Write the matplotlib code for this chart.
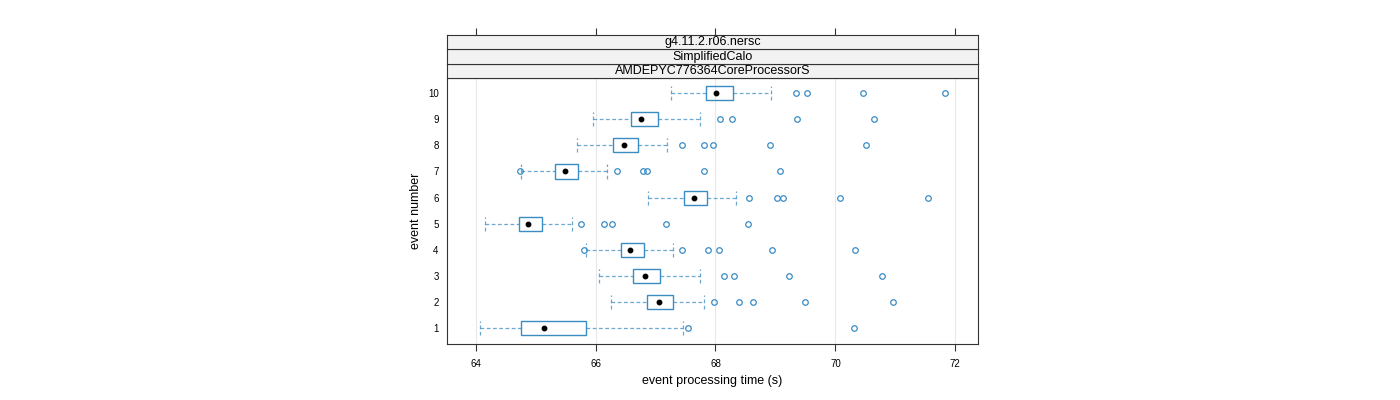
import matplotlib.pyplot as plt
from matplotlib.patches import Rectangle

plt.rcParams['font.family'] = ['Liberation Sans', 'DejaVu Sans']

# event numbers 1..10 and box statistics (seconds)
events = [1, 2, 3, 4, 5, 6, 7, 8, 9, 10]
whisk_lo = [64.07, 66.25, 66.05, 65.84, 64.15, 66.87, 64.75, 65.69, 65.95, 67.26]
q1 = [64.75, 66.86, 66.62, 66.42, 64.72, 67.47, 65.32, 66.29, 66.59, 67.84]
median = [65.14, 67.06, 66.82, 66.57, 64.87, 67.64, 65.49, 66.47, 66.76, 68.01]
q3 = [65.84, 67.29, 67.07, 66.81, 65.10, 67.86, 65.70, 66.71, 67.04, 68.29]
whisk_hi = [67.46, 67.81, 67.74, 67.29, 65.60, 68.34, 66.19, 67.19, 67.74, 68.93]
outliers = [
    [67.54, 70.31],
    [67.97, 68.39, 68.63, 69.49, 70.96],
    [68.14, 68.31, 69.23, 70.78],
    [65.80, 67.44, 67.87, 68.06, 68.94, 70.33],
    [65.75, 66.14, 66.27, 67.17, 68.54],
    [68.56, 69.03, 69.13, 70.08, 71.55],
    [64.73, 66.35, 66.79, 66.86, 67.81, 69.08],
    [67.44, 67.81, 67.96, 68.91, 70.51],
    [68.08, 68.28, 69.36, 70.65],
    [69.34, 69.53, 70.46, 71.83],
]
strips = ['g4.11.2.r06.nersc', 'SimplifiedCalo', 'AMDEPYC776364CoreProcessorS']
xticks = [64, 66, 68, 70, 72]

col = '#3a8cc4'
frame = '#333333'
xlim = (63.52, 72.38)

fig = plt.figure(figsize=(14, 4), dpi=100)
L, W = 447 / 1400, (978 - 447) / 1400
ax = fig.add_axes([L, 56 / 400, W, 266 / 400])

ax.set_xlim(*xlim)
ax.set_ylim(0.39, 10.58)
for t in xticks:
    ax.axvline(t, color='#e8e8e8', lw=0.8, zorder=0)

h = 0.27
for i, e in enumerate(events):
    ax.plot([whisk_lo[i], q1[i]], [e, e], color=col, lw=0.9, ls=(0, (3, 2)), alpha=0.75)
    ax.plot([q3[i], whisk_hi[i]], [e, e], color=col, lw=0.9, ls=(0, (3, 2)), alpha=0.75)
    for w in (whisk_lo[i], whisk_hi[i]):
        ax.plot([w, w], [e - h, e + h], color=col, lw=0.9, ls=(0, (3, 2)), alpha=0.75)
    ax.add_patch(Rectangle((q1[i], e - h), q3[i] - q1[i], 2 * h,
                           fill=False, edgecolor=col, lw=1.0, zorder=3))
    ax.plot(median[i], e, 'o', color='black', ms=3.2, zorder=4)
    ax.plot(outliers[i], [e] * len(outliers[i]), 'o', mfc='none', mec=col,
            ms=4, mew=0.9, ls='none', zorder=3)

ax.set_xticks(xticks)
ax.set_xticklabels([str(t) for t in xticks], fontsize=7)
ax.set_yticks(events)
ax.set_yticklabels([str(e) for e in events], fontsize=7)
ax.tick_params(axis='x', length=5, width=0.8, color=frame, pad=6)
ax.tick_params(axis='y', length=0, pad=6)
for s in ax.spines.values():
    s.set_color(frame)
    s.set_linewidth(0.8)
ax.set_xlabel('event processing time (s)', fontsize=9, labelpad=4)
ax.set_ylabel('event number', fontsize=9, labelpad=4)

# strips
strip_h = 14.5 / 400
for k, name in enumerate(reversed(strips)):
    sax = fig.add_axes([L, 322 / 400 + k * strip_h, W, strip_h])
    sax.set_facecolor('#f2f2f2')
    sax.set_xlim(*xlim)
    sax.set_yticks([])
    sax.set_xticks([])
    for s in sax.spines.values():
        s.set_color(frame)
        s.set_linewidth(0.8)
    sax.text(0.5, 0.45, name, transform=sax.transAxes, ha='center', va='center',
             fontsize=9)
    if k == len(strips) - 1:
        sax.xaxis.tick_top()
        sax.set_xticks(xticks)
        sax.set_xticklabels([])
        sax.tick_params(axis='x', length=5, width=0.8, color=frame)

fig.savefig('out.png', dpi=100)
